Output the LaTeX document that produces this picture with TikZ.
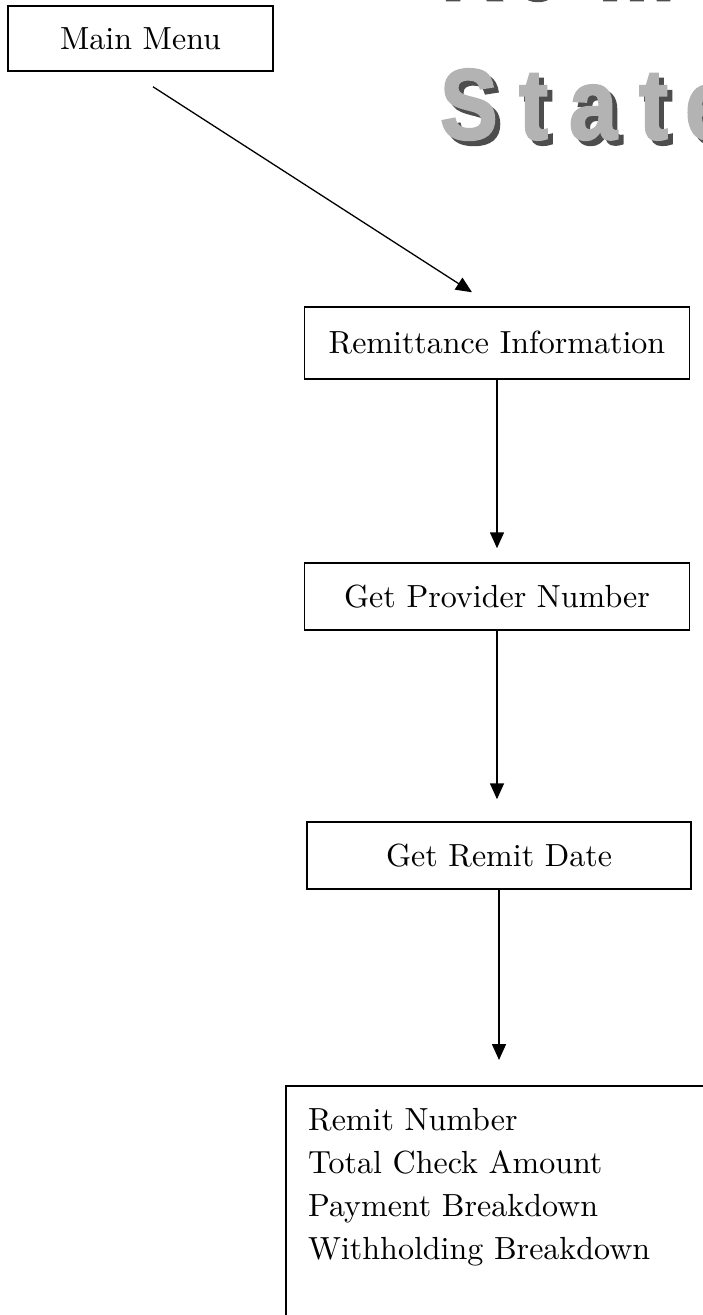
\documentclass[tikz,border=0pt]{standalone}
\usepackage{fontspec}
\newfontfamily\titlefont{Liberation Sans}[FakeBold=2.5]
\newfontfamily\bodyfont{lmroman10-regular.otf}
\usetikzlibrary{arrows.meta,calc}
\definecolor{lightgr}{HTML}{B3B3B3}
\definecolor{shadowgr}{HTML}{4D4D4D}
\tikzset{
  box/.style={draw, line width=1.5pt, inner sep=0pt, font=\bodyfont\fontsize{32}{32}\selectfont},
  arr/.style={line width=1.6pt, -{Triangle[length=16pt,width=14pt]}},
  bodytext/.style={anchor=base west, inner sep=0pt, font=\bodyfont\fontsize{32}{32}\selectfont},
  ttl/.style={anchor=base west, inner sep=0pt, font=\titlefont\bfseries\fontsize{100}{100}\selectfont, text=lightgr},
  ttlsh/.style={ttl, text=shadowgr},
}
\begin{document}
\begin{tikzpicture}[x=1pt,y=-1pt]
\useasboundingbox (0,0) rectangle (702,1315);
% title (cut off at the page edge)
\foreach \ch/\xx/\nm in {R/436/r1, e/508/r2, m/593/r3}{
  \node[ttlsh] (\nm sh) at (\xx+5,0) {\scalebox{0.86}[1]{\ch}};
  \node[ttl] (\nm) at (\xx,-6) {\scalebox{0.86}[1]{\ch}};
}
\foreach \ch/\xx/\nm in {S/440/s1, t/519/s2, a/569/s3, t/639/s4, e/685/s5}{
  \node[ttlsh] (\nm sh) at (\xx+5,144) {\scalebox{0.86}[1]{\ch}};
  \node[ttl] (\nm) at (\xx,139) {\scalebox{0.86}[1]{\ch}};
}
% boxes
\node[box, minimum width=265, minimum height=65] (mm) at (140.5,38.5) {Main Menu};
\node[box, minimum width=385, minimum height=72] (ri) at (497,343) {Remittance Information};
\node[box, minimum width=385, minimum height=67] (gp) at (497,596.5) {Get Provider Number};
\node[box, minimum width=384, minimum height=67] (gd) at (499,855.5) {Get Remit Date};
\node[inner sep=0pt, minimum width=440, minimum height=250, anchor=north west] (res) at (286,1086) {};
\draw[line width=1.5pt] (res.north east) -- (res.north west) -- (res.south west);
\node[bodytext] (l1) at (308,1130) {Remit Number};
\node[bodytext] (l2) at (308,1173) {Total Check Amount};
\node[bodytext] (l3) at (308,1216) {Payment Breakdown};
\node[bodytext] (l4) at (308,1259) {Withholding Breakdown};
% connectors
\draw[arr, line width=1.3pt] ($(mm.south)+(12.5,15)$) -- ($(ri.north)+(-25,-14)$);
\draw[arr, shorten >=14pt] (ri.south) -- (ri.south |- gp.north);
\draw[arr, shorten >=22pt] (gp.south) -- (gp.south |- gd.north);
\draw[arr, shorten >=26pt] (gd.south) -- (gd.south |- res.north);
\end{tikzpicture}
\end{document}
